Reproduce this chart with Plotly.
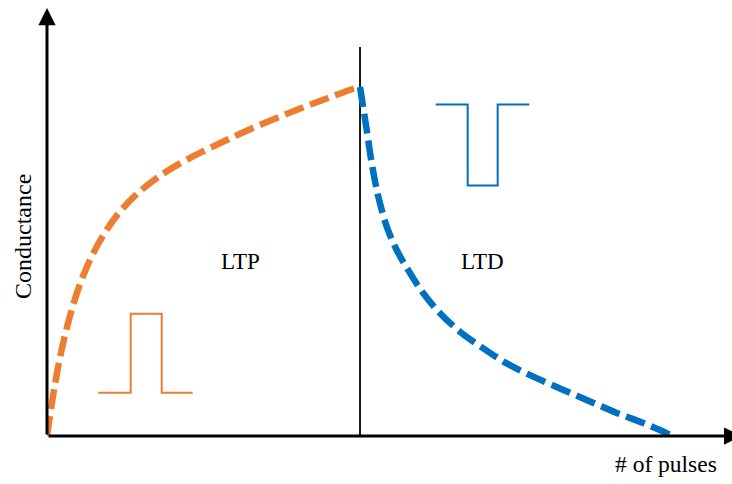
import plotly.graph_objects as go

# LTP branch (pulse number, normalised conductance)
ltp_pulses = [0, 1.28, 2.6, 4.2, 5.8, 7.4, 9.54, 11.66, 14.33, 17.52, 21.25, 24.97,
              28.71, 32.96, 37.22, 40.94, 44.68, 48.93, 50]
ltp_cond = [0.0, 0.149, 0.268, 0.377, 0.46, 0.524, 0.591, 0.643, 0.693, 0.739, 0.781, 0.816,
            0.848, 0.883, 0.915, 0.942, 0.967, 0.995, 1.0]

# LTD branch
ltd_pulses = [50, 51.07, 51.87, 52.92, 54.27, 55.86, 57.99, 60.11, 62.78, 65.97, 69.7,
              73.43, 77.68, 82.48, 86.74, 91.01, 95.26, 100]
ltd_cond = [1.0, 0.877, 0.782, 0.686, 0.6, 0.533, 0.467, 0.409, 0.352, 0.299, 0.251,
            0.208, 0.17, 0.132, 0.099, 0.066, 0.037, 0.0]

# pulse icons
pot_pulse_x = [8.19, 13.37, 13.37, 18.32, 18.32, 23.27]
pot_pulse_y = [0.124, 0.124, 0.35, 0.35, 0.124, 0.124]
dep_pulse_x = [62.09, 67.2, 67.2, 71.99, 71.99, 77.04]
dep_pulse_y = [0.95, 0.95, 0.718, 0.718, 0.95, 0.95]

# divider between LTP and LTD
divider_x = [50, 50]
divider_y = [0, 1.115]

X_MAX = 109.42
Y_MAX = 1.2264
X_ARROW = 110.9

ORANGE = "#ED7D31"
BLUE = "#0070C0"
FONT = "Liberation Serif"

fig = go.Figure()
fig.add_trace(go.Scatter(x=divider_x, y=divider_y, mode="lines",
                         line=dict(color="black", width=1.8), cliponaxis=False))
fig.add_trace(go.Scatter(x=ltp_pulses, y=ltp_cond, mode="lines", line_shape="spline",
                         line=dict(color=ORANGE, width=6.5, dash="20px,7px"), cliponaxis=False))
fig.add_trace(go.Scatter(x=ltd_pulses, y=ltd_cond, mode="lines", line_shape="spline",
                         line=dict(color=BLUE, width=6.5, dash="20px,7px"), cliponaxis=False))
fig.add_trace(go.Scatter(x=pot_pulse_x, y=pot_pulse_y, mode="lines",
                         line=dict(color=ORANGE, width=2), cliponaxis=False))
fig.add_trace(go.Scatter(x=dep_pulse_x, y=dep_pulse_y, mode="lines",
                         line=dict(color=BLUE, width=2), cliponaxis=False))

# axes with arrows
fig.add_annotation(x=X_ARROW, y=0, ax=0, ay=0, xref="x", yref="y", axref="x", ayref="y",
                   showarrow=True, arrowhead=2, arrowsize=1.15, arrowwidth=3, arrowcolor="black", text="")
fig.add_annotation(x=0, y=Y_MAX, ax=0, ay=0, xref="x", yref="y", axref="x", ayref="y",
                   showarrow=True, arrowhead=2, arrowsize=1.15, arrowwidth=3, arrowcolor="black", text="")

fig.add_annotation(x=30.9, y=0.50, text="LTP", showarrow=False,
                   xanchor="center", yanchor="middle",
                   font=dict(family=FONT, size=23, color="black"))
fig.add_annotation(x=69.6, y=0.50, text="LTD", showarrow=False,
                   xanchor="center", yanchor="middle",
                   font=dict(family=FONT, size=23, color="black"))
fig.add_annotation(x=(23 - 47) / 685, y=(436 - 237) / 428, xref="paper", yref="paper",
                   text="Conductance", showarrow=False, textangle=-90,
                   xanchor="center", yanchor="middle",
                   font=dict(family=FONT, size=24, color="black"))
fig.add_annotation(x=(666 - 47) / 685, y=(436 - 464) / 428, xref="paper", yref="paper",
                   text="# of pulses", showarrow=False,
                   xanchor="center", yanchor="middle",
                   font=dict(family=FONT, size=23.5, color="black"))

fig.update_layout(
    width=732, height=484,
    margin=dict(l=47, r=0, t=8, b=48, autoexpand=False),
    paper_bgcolor="white", plot_bgcolor="white",
    showlegend=False,
    xaxis=dict(range=[0, X_MAX], visible=False, fixedrange=True),
    yaxis=dict(range=[0, Y_MAX], visible=False, fixedrange=True),
)

fig.write_html("out.html", config={"displayModeBar": False},
               post_script="document.body.style.margin='0';document.body.style.overflow='hidden';")
